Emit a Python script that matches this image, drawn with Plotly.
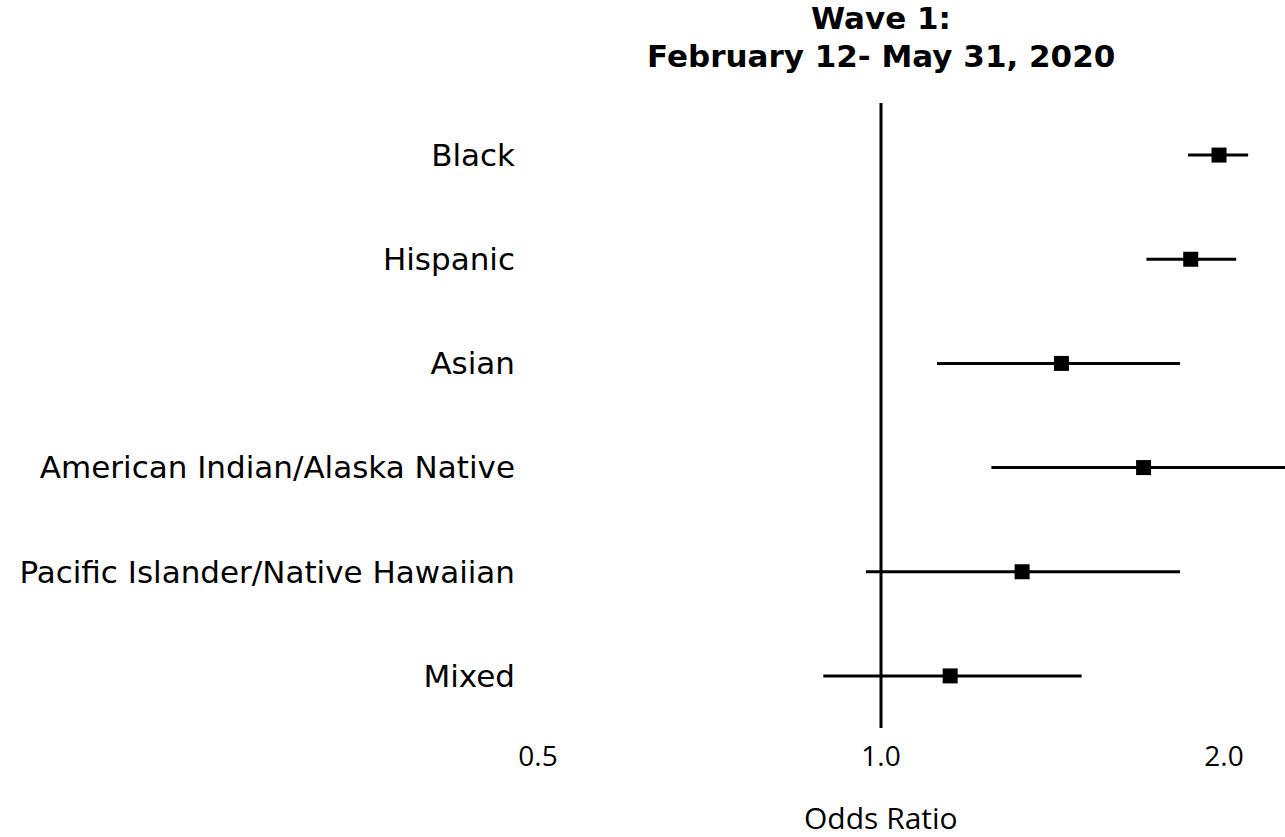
import math
import plotly.graph_objects as go

# Odds ratios with 95% confidence intervals by race/ethnicity
groups = ["Black", "Hispanic", "Asian", "American Indian/Alaska Native",
          "Pacific Islander/Native Hawaiian", "Mixed"]
odds_ratio = [1.98, 1.87, 1.44, 1.70, 1.33, 1.15]
ci_lower = [1.86, 1.71, 1.12, 1.25, 0.97, 0.89]
ci_upper = [2.10, 2.05, 1.83, 2.60, 1.83, 1.50]

tick_vals = [0.5, 1.0, 2.0]
tick_text = ["0.5", "1.0", "2.0"]

TICK_FONT = "Open Sans"
LABEL_FONT = "DejaVu Sans"
W, H = 1285, 837
ML, MR, MT, MB = 530, 0, 103, 109

# log-axis range: 1.0 sits at x=881, one doubling spans 343 px
px_per_dec = 343 / math.log10(2)
x_lo = (ML - 881) / px_per_dec
x_hi = (W - MR - 881) / px_per_dec

fig = go.Figure()
fig.add_trace(go.Scatter(
    x=odds_ratio,
    y=groups,
    mode="markers",
    marker=dict(symbol="square", size=15, color="black"),
    error_x=dict(
        type="data",
        symmetric=False,
        array=[u - o for u, o in zip(ci_upper, odds_ratio)],
        arrayminus=[o - l for o, l in zip(odds_ratio, ci_lower)],
        color="black",
        thickness=3,
        width=0,
    ),
    showlegend=False,
    cliponaxis=True,
))

# reference line at OR = 1
fig.add_shape(type="line", xref="x", yref="paper", x0=1, x1=1, y0=0, y1=1,
              line=dict(color="black", width=3), layer="above")

fig.update_xaxes(
    type="log",
    range=[x_lo, x_hi],
    tickvals=tick_vals,
    ticktext=tick_text,
    showgrid=False,
    zeroline=False,
    showline=False,
    ticks="",
    ticklabelstandoff=9,
    tickfont=dict(family=TICK_FONT, size=28, color="black"),
)
fig.update_yaxes(
    type="category",
    categoryorder="array",
    categoryarray=groups,
    range=[len(groups) - 0.5, -0.5],
    autorange=False,
    showgrid=False,
    zeroline=False,
    showline=False,
    ticks="",
    ticklabelstandoff=14,
    tickfont=dict(family=LABEL_FONT, size=31, color="black"),
)

pw = W - ML - MR
ph = H - MT - MB
cx = (881 - ML) / pw

fig.add_annotation(text="<b>Wave 1:</b>", xref="paper", yref="paper",
                   x=cx, y=(H - MB - 18) / ph, xanchor="center", yanchor="middle",
                   showarrow=False, font=dict(family=LABEL_FONT, size=31, color="black"))
fig.add_annotation(text="<b>February 12- May 31, 2020</b>", xref="paper", yref="paper",
                   x=cx, y=(H - MB - 56) / ph, xanchor="center", yanchor="middle",
                   showarrow=False, font=dict(family=LABEL_FONT, size=31, color="black"))
fig.add_annotation(text="Odds Ratio", xref="paper", yref="paper",
                   x=cx, y=(H - MB - 818) / ph, xanchor="center", yanchor="middle",
                   showarrow=False, font=dict(family=TICK_FONT, size=30, color="black"))

fig.update_layout(
    width=W, height=H,
    margin=dict(l=ML, r=MR, t=MT, b=MB),
    paper_bgcolor="white",
    plot_bgcolor="white",
)

fig.write_html("out.html")
